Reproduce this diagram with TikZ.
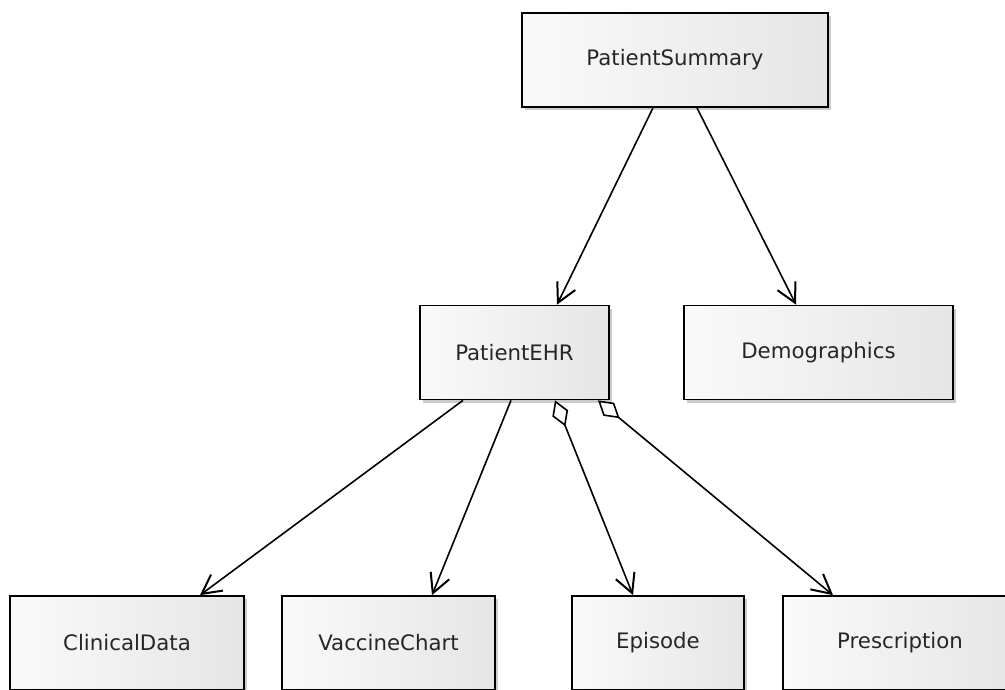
\documentclass[tikz,border=0pt]{standalone}
\usepackage{fontspec}
\setmainfont{DejaVu Sans}
\usetikzlibrary{positioning,arrows.meta,shadows}

\begin{document}
\begin{tikzpicture}[x=1pt,y=-1pt,
every node/.style={draw,line width=1.7pt,inner sep=0pt,minimum height=94pt,
  left color=black!2,right color=black!10,text=black!85,
  drop shadow={shadow xshift=3pt,shadow yshift=-3pt,opacity=0.2,fill=black},
  font=\fontsize{21.3}{25}\selectfont},
assoc/.style={line width=1.6pt,-{Straight Barb[length=19pt,width=20pt,line width=2pt]}},
aggr/.style={line width=1.6pt,{Diamond[open,length=28pt,width=17pt,line width=1.6pt]}-{Straight Barb[length=19pt,width=20pt,line width=2pt]}}]

\useasboundingbox (0,0) rectangle (1005,689);

\node[minimum width=306pt] (summary) at (675,60) {PatientSummary};
\node[minimum width=189pt] (ehr) at (514.5,352.5) {PatientEHR};
\node[minimum width=269pt] (demo) at (818.5,352.5) {Demographics};
\node[minimum width=234pt] (clinical) at (127,643) {ClinicalData};
\node[minimum width=213pt] (vaccine) at (388.5,643) {VaccineChart};
\node[minimum width=172pt] (episode) at (658,643) {Episode};
\node[minimum width=234pt] (prescr) at (900,643) {Prescription};

\draw[assoc] ([xshift=-22pt]summary.south)--([xshift=42.5pt]ehr.north);
\draw[assoc] ([xshift=22pt]summary.south)--([xshift=-22.5pt]demo.north);
\draw[assoc] ([xshift=-51.5pt]ehr.south)--([xshift=73pt]clinical.north);
\draw[assoc] ([xshift=-3.5pt]ehr.south)--([xshift=43.5pt]vaccine.north);
\draw[aggr] ([xshift=40.5pt]ehr.south)--([xshift=-25pt]episode.north);
\draw[aggr] ([xshift=83.5pt]ehr.south)--([xshift=-67pt]prescr.north);

\end{tikzpicture}
\end{document}
